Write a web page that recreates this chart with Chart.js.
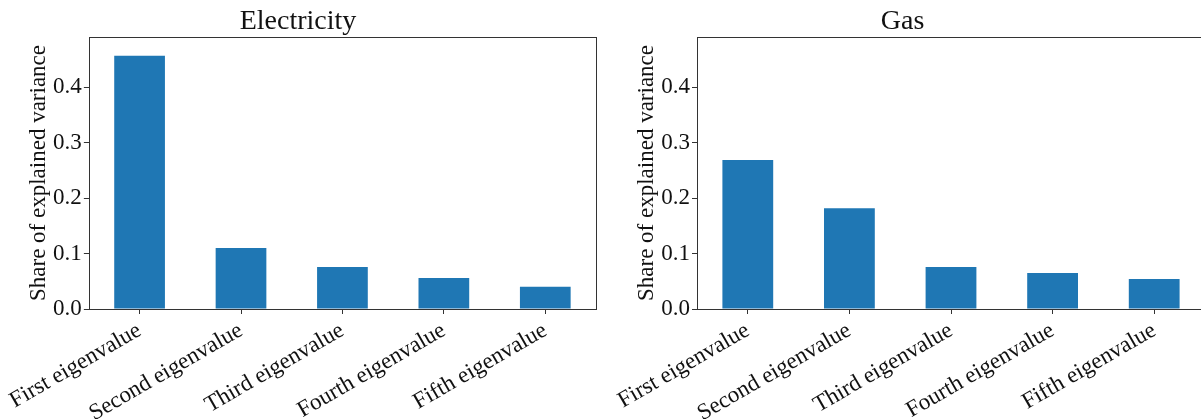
<!DOCTYPE html>
<html>
<head>
<meta charset="utf-8">
<script src="https://cdn.jsdelivr.net/npm/chart.js@4"></script>
<style>
  html, body { margin: 0; padding: 0; background: #fff; overflow: hidden; width: 1201px; height: 419px; }
  .pane { position: absolute; top: 0; }
</style>
</head>
<body>
<div class="pane" style="left:0"><canvas id="elec" width="600" height="419"></canvas></div>
<div class="pane" style="left:600px"><canvas id="gas" width="610" height="419"></canvas></div>
<script>
/* ── data ── */
const categories = ['First eigenvalue', 'Second eigenvalue', 'Third eigenvalue', 'Fourth eigenvalue', 'Fifth eigenvalue'];
const elecShare  = [0.457, 0.110, 0.076, 0.056, 0.040];
const gasShare   = [0.269, 0.182, 0.076, 0.065, 0.054];
const yMax = 0.491;
const yStep = 0.1;

const C = {
  bar:  '#1f77b4',
  text: '#111111',
  axis: '#333333',
};
const FONT = "'Liberation Serif', 'Times New Roman', serif";

// draws the four spines round the plot area
const framePlugin = {
  id: 'frame',
  afterDatasetsDraw(chart) {
    const a = chart.chartArea;
    const g = chart.ctx;
    g.save();
    g.strokeStyle = C.axis;
    g.lineWidth = 1;
    g.strokeRect(Math.round(a.left) + 0.5, Math.round(a.top) + 0.5,
                 Math.round(a.right - a.left), Math.round(a.bottom - a.top));
    g.restore();
  },
};

function makeChart(id, title, values, yAxisWidth, padRight, titlePad) {
  return new Chart(document.getElementById(id), {
    type: 'bar',
    data: {
      labels: categories,
      datasets: [{
        data: values,
        backgroundColor: C.bar,
        borderWidth: 0,
        barPercentage: 0.5,
        categoryPercentage: 1,
      }],
    },
    plugins: [framePlugin],
    options: {
      responsive: false,
      animation: false,
      layout: { padding: { left: 0, right: padRight, top: 0, bottom: 0 } },
      plugins: {
        legend: { display: false },
        tooltip: { enabled: false },
        title: {
          display: true,
          text: title,
          color: C.text,
          font: { family: FONT, size: 28, weight: 'normal', lineHeight: 1.0 },
          padding: { top: 8, bottom: 1 },
        },
      },
      scales: {
        x: {
          offset: true,
          border: { display: false },
          grid: { offset: false, drawOnChartArea: false, drawTicks: true, tickLength: 5, color: C.axis },
          ticks: {
            color: C.text,
            font: { family: FONT, size: 23 },
            minRotation: 30,
            maxRotation: 30,
            autoSkip: false,
            padding: 3,
          },
          afterFit: s => { s.height = 110; },
        },
        y: {
          min: 0,
          max: yMax,
          border: { display: false },
          grid: { drawOnChartArea: false, drawTicks: true, tickLength: 5, color: C.axis },
          ticks: {
            stepSize: yStep,
            color: C.text,
            font: { family: FONT, size: 23 },
            padding: 2,
            callback: v => v.toFixed(1),
          },
          afterBuildTicks: s => { s.ticks = s.ticks.filter(t => t.value <= 0.4 + 1e-9); },
          title: {
            display: true,
            text: 'Share of explained variance',
            color: C.text,
            font: { family: FONT, size: 23 },
            padding: { top: titlePad, bottom: 0 },
          },
          afterFit: s => { s.width = yAxisWidth; },
        },
      },
    },
  });
}

makeChart('elec', 'Electricity', elecShare, 88, 4, 24);
makeChart('gas', 'Gas', gasShare, 97, 5, 33);
</script>
</body>
</html>
